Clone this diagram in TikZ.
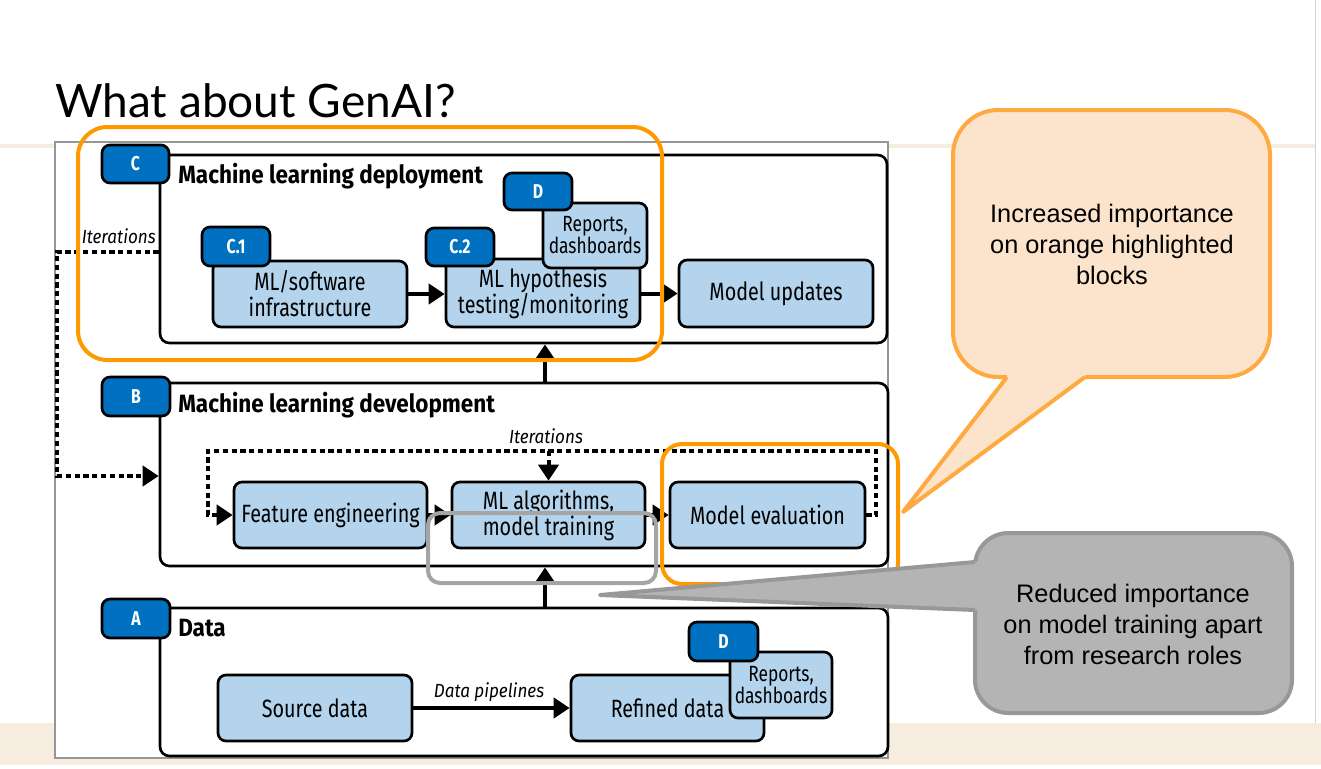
\documentclass[tikz,border=0pt]{standalone}
\usepackage{fontspec}
\setmainfont{Liberation Sans}
\newfontfamily\dg{Fira Sans}[FakeStretch=0.9]
\newfontfamily\dgc{Fira Sans}[FakeStretch=0.79]
\newfontfamily\lato{Lato}
\usetikzlibrary{arrows.meta,fit}
\definecolor{tabblue}{RGB}{0,112,192}
\definecolor{boxblue}{RGB}{179,212,236}
\definecolor{hlorange}{RGB}{255,153,0}
\definecolor{callfill}{RGB}{252,228,204}
\definecolor{callline}{RGB}{255,170,64}
\definecolor{grayfill}{RGB}{180,180,180}
\definecolor{grayline}{RGB}{152,152,152}
\definecolor{hlgray}{RGB}{165,165,165}
\definecolor{beige}{RGB}{246,236,223}
\definecolor{framegray}{RGB}{150,150,150}
\tikzset{
 panel/.style={draw=black,line width=2pt,rounded corners=7pt,fill=white,inner sep=0pt},
 bbox/.style={draw=black,line width=2pt,rounded corners=6pt,fill=boxblue,inner sep=0pt},
 btxt/.style={inner sep=0pt,align=center,font=\dgc\fontsize{18.75}{19.5}\selectfont},
 rtxt/.style={inner sep=0pt,align=center,font=\dgc\fontsize{16.5}{16.5}\selectfont},
 tabbox/.style={draw=black,line width=2pt,rounded corners=6pt,fill=tabblue,inner sep=0pt},
 ttxt/.style={inner sep=0pt,text=white,font=\dgc\bfseries\fontsize{15}{16}\selectfont},
 ptitle/.style={anchor=base west,inner sep=0pt,font=\dg\bfseries\fontsize{18.75}{20}\selectfont},
 itlabel/.style={inner sep=0pt,font=\dg\itshape\fontsize{14.25}{16}\selectfont},
 arr/.style={line width=3pt,-{Triangle[length=12pt,width=15pt]}},
 dots/.style={line width=3pt,dash pattern=on 4pt off 2.6pt},
 darr/.style={dots,-{Triangle[length=12pt,width=15pt]}},
 hlo/.style={draw=hlorange,line width=3pt,inner sep=0pt},
 hlg/.style={draw=hlgray,line width=3pt,inner sep=0pt},
 ctext/.style={align=center,font=\fontsize{19}{23.25}\selectfont,inner sep=0pt},
}
\begin{document}
\begin{tikzpicture}[x=0.75pt,y=-0.75pt]
\useasboundingbox (0,0) rectangle (1321,768);
% background
\fill[white] (0,0) rectangle (1321,768);
\fill[beige] (0,144) rectangle (1315,148);
\fill[beige] (0,723) rectangle (1321,765);
\draw[gray!35,line width=1pt] (1315.5,0) -- (1315.5,723);
\node[anchor=base west,inner sep=0pt,font=\lato\fontsize{34.5}{38}\selectfont] (title) at (55,117) {What about GenAI?};
% frame
\draw[framegray,line width=1pt,fill=white] (55,142) rectangle (888,758);
% panels
\node[panel,fit={(160,155)(887,343)}] (pC) {};
\node[panel,fit={(160,383)(888,566)}] (pB) {};
\node[panel,fit={(160,608)(888,756)}] (pA) {};
\node[tabbox,fit={(102,145)(169,183)},label={[ttxt]center:C}] (tC) {};
\node[tabbox,fit={(102,377)(170,416)},label={[ttxt]center:B}] (tB) {};
\node[tabbox,fit={(102,599)(170,638)},label={[ttxt]center:A}] (tA) {};
\node[ptitle] (ttC) at (178,183) {Machine learning deployment};
\node[ptitle] (ttB) at (178,412) {Machine learning development};
\node[ptitle] (ttA) at (178,636) {Data};
% C boxes
\node[bbox,fit={(213,261)(407,327)},label={[btxt]center:{ML/software\\infrastructure}}] (c1) {};
\node[tabbox,fit={(202,227)(270,266)},label={[ttxt]center:C.1}] (tc1) {};
\node[bbox,fit={(446,259)(640,327)},label={[btxt]center:{ML hypothesis\\testing/monitoring}}] (c2) {};
\node[tabbox,fit={(426,228)(494,266)},label={[ttxt]center:C.2}] (tc2) {};
\node[bbox,fit={(543,203)(647,268)},label={[rtxt]center:{Reports,\\dashboards}}] (rep1) {};
\node[tabbox,fit={(504,173)(572,210)},label={[ttxt]center:D}] (td1) {};
\node[bbox,fit={(679,260)(873,327)},label={[btxt]center:Model updates}] (mu) {};
% B boxes
\node[bbox,fit={(234,482)(427,548)},label={[btxt]center:Feature engineering}] (fe) {};
\node[bbox,fit={(452,482)(645,548)},label={[btxt]center:{ML algorithms,\\model training}}] (ml) {};
\node[bbox,fit={(670,482)(865,548)},label={[btxt]center:Model evaluation}] (me) {};
% A boxes
\node[bbox,fit={(218,675)(412,741)},label={[btxt]center:Source data}] (sd) {};
\node[bbox,fit={(571,675)(764,741)},label={[btxt]center:Refined data}] (rd) {};
\node[bbox,fit={(730,652)(832,718)},label={[rtxt]center:{Reports,\\dashboards}}] (rep2) {};
\node[tabbox,fit={(689,622)(758,661)},label={[ttxt]center:D}] (td2) {};
% arrows
\draw[arr] (c1.east) -- (c1.east -| c2.west);
\draw[arr] (c2.east |- mu.west) -- (mu.west);
\draw[arr] (fe.east) -- (ml.west);
\draw[arr] (ml.east) -- (me.west);
\draw[arr] (sd.east) -- (sd.east -| rd.west);
\coordinate (vx) at (545,0);
\draw[arr] (pA.north -| vx) -- (pB.south -| vx);
\draw[arr] (pB.north -| vx) -- (pC.south -| vx);
% labels
\node[itlabel,anchor=base] (dpl) at (489,697) {Data pipelines};
\node[itlabel,anchor=base] (itB) at (546,443) {Iterations};
\node[itlabel,anchor=base east] (itC) at (156,243) {Iterations};
% dotted iterations
\coordinate (lR) at (876,451);
\coordinate (lL) at (208,451);
\draw[darr] (me.east) -- (me.east -| lR) -- (lR) -- (lL) -- (lL |- fe.west) -- (fe.west);
\draw[darr] (ml.north |- lL) -- (ml.north);
\coordinate (iT) at (57,252);
\coordinate (iB) at (57,476);
\draw[darr] (iT -| pC.west) -- (iT) -- (iB) -- (iB -| pB.west);
% highlights
\node[hlo,rounded corners=22pt,fit={(78,127)(662,360)}] (hl1) {};
\node[hlo,rounded corners=15pt,fit={(662,444)(898,584)}] (hl2) {};
\node[hlg,rounded corners=9pt,fit={(428,513)(656,583)}] (hl3) {};
% orange callout
\draw[callline,fill=callfill,line width=3pt,rounded corners=34pt] (953,110) rectangle (1270,377);
\fill[callfill] (1007,377) -- (903,512) -- (1085,377) -- (1085,371) -- (1007,371) -- cycle;
\draw[callline,line width=3pt,line join=round] (1007,377) -- (903,512) -- (1085,377);
\node[ctext] (ct1) at (1112,244) {Increased importance\\on orange highlighted\\blocks};
% gray callout
\draw[grayline,fill=grayfill,line width=3pt,rounded corners=25pt] (975,533) rectangle (1292,713);
\fill[grayfill] (975,562) -- (600,595) -- (975,610) -- (981,610) -- (981,562) -- cycle;
\draw[grayline,line width=3pt,line join=round] (975,562) -- (600,595) -- (975,610);
\node[ctext] (ct2) at (1133,624) {Reduced importance\\on model training apart\\from research roles};
\end{tikzpicture}
\end{document}
